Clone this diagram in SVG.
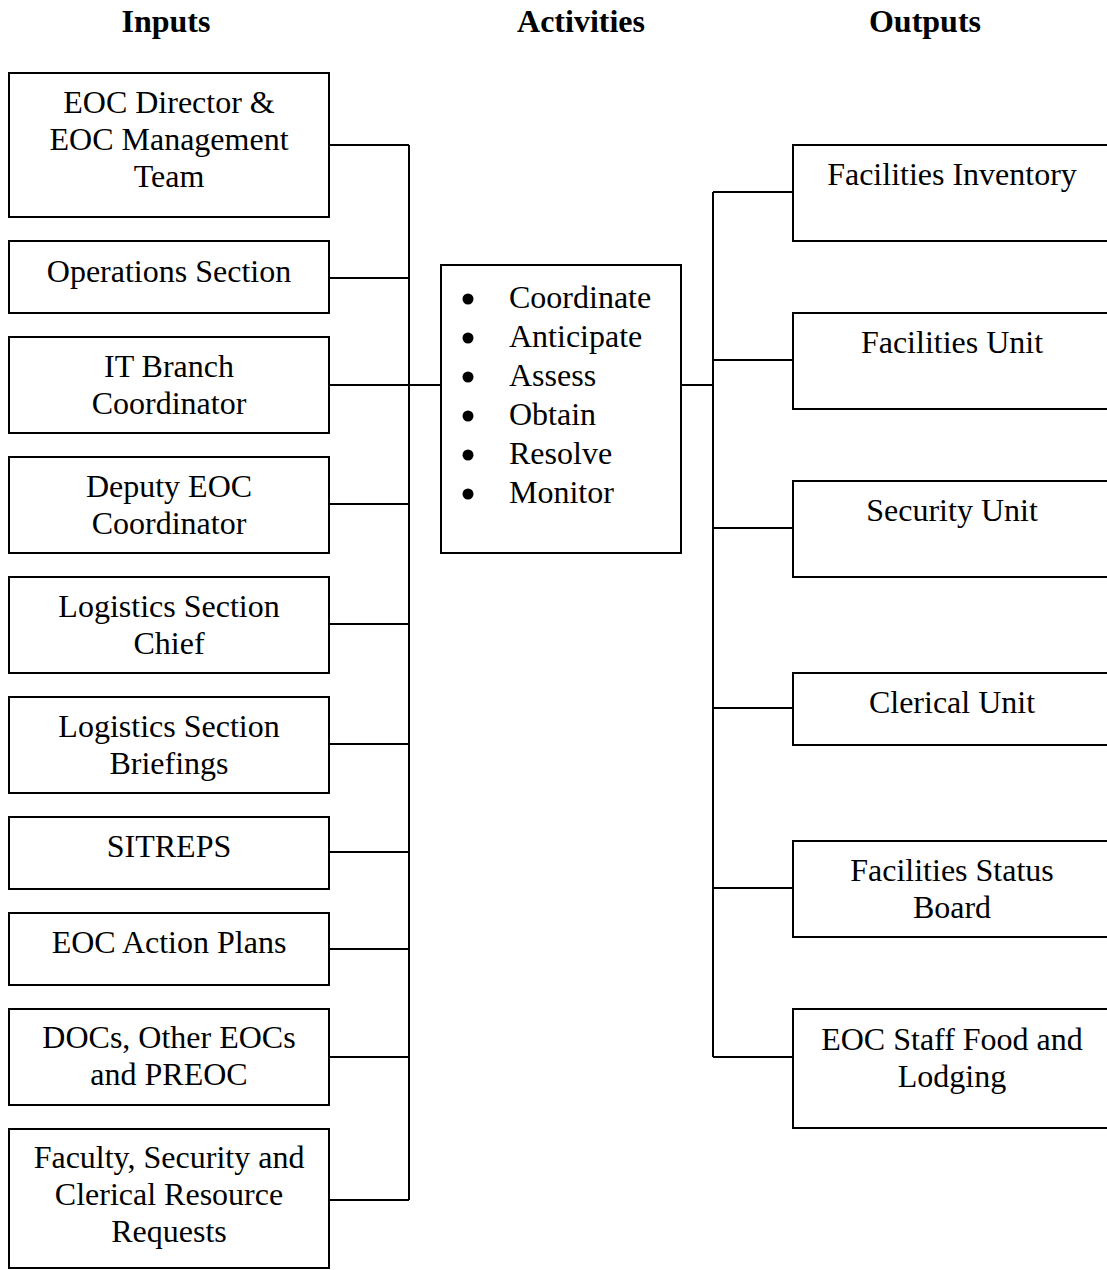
<svg xmlns="http://www.w3.org/2000/svg" width="1107" height="1270" viewBox="0 0 1107 1270">
  <style>
    .box { fill: #ffffff; stroke: #000000; stroke-width: 2; }
    .wire { fill: none; stroke: #000000; stroke-width: 2; }
    .lbl { font-family: "Liberation Serif", "Times New Roman", serif; font-size: 32px; fill: #000000; }
    .mid { text-anchor: middle; }
    .head { font-family: "Liberation Serif", "Times New Roman", serif; font-size: 32px; font-weight: bold; text-anchor: middle; fill: #000000; }
  </style>
  <rect width="1107" height="1270" fill="#ffffff"/>

  <!-- column headings -->
  <g id="headings">
    <text class="head" x="166" y="32">Inputs</text>
    <text class="head" x="581" y="32">Activities</text>
    <text class="head" x="925" y="32">Outputs</text>
  </g>

  <!-- connectors -->
  <g id="connectors">
    <!-- input bus -->
    <path class="wire" d="M409 145 V1200"/>
    <path class="wire" d="M329 145 H409 M329 278 H409 M329 385 H409 M329 504 H409 M329 624 H409 M329 744 H409 M329 852 H409 M329 949 H409 M329 1057 H409 M329 1200 H409"/>
    <path class="wire" d="M409 385 H441"/>
    <!-- output bus -->
    <path class="wire" d="M681 385 H713"/>
    <path class="wire" d="M713 192 V1057"/>
    <path class="wire" d="M713 192 H793 M713 360 H793 M713 528 H793 M713 708 H793 M713 888 H793 M713 1057 H793"/>
  </g>

  <!-- inputs -->
  <g id="in-director">
    <rect class="box" x="9" y="73" width="320" height="144"/>
    <text class="lbl mid" x="169" y="113">EOC Director &amp;</text>
    <text class="lbl mid" x="169" y="150">EOC Management</text>
    <text class="lbl mid" x="169" y="187">Team</text>
  </g>
  <g id="in-operations">
    <rect class="box" x="9" y="241" width="320" height="72"/>
    <text class="lbl mid" x="169" y="282">Operations Section</text>
  </g>
  <g id="in-it-branch">
    <rect class="box" x="9" y="337" width="320" height="96"/>
    <text class="lbl mid" x="169" y="377">IT Branch</text>
    <text class="lbl mid" x="169" y="414">Coordinator</text>
  </g>
  <g id="in-deputy">
    <rect class="box" x="9" y="457" width="320" height="96"/>
    <text class="lbl mid" x="169" y="497">Deputy EOC</text>
    <text class="lbl mid" x="169" y="534">Coordinator</text>
  </g>
  <g id="in-logistics-chief">
    <rect class="box" x="9" y="577" width="320" height="96"/>
    <text class="lbl mid" x="169" y="617">Logistics Section</text>
    <text class="lbl mid" x="169" y="654">Chief</text>
  </g>
  <g id="in-logistics-briefings">
    <rect class="box" x="9" y="697" width="320" height="96"/>
    <text class="lbl mid" x="169" y="737">Logistics Section</text>
    <text class="lbl mid" x="169" y="774">Briefings</text>
  </g>
  <g id="in-sitreps">
    <rect class="box" x="9" y="817" width="320" height="72"/>
    <text class="lbl mid" x="169" y="857">SITREPS</text>
  </g>
  <g id="in-action-plans">
    <rect class="box" x="9" y="913" width="320" height="72"/>
    <text class="lbl mid" x="169" y="953">EOC Action Plans</text>
  </g>
  <g id="in-docs">
    <rect class="box" x="9" y="1009" width="320" height="96"/>
    <text class="lbl mid" x="169" y="1048">DOCs, Other EOCs</text>
    <text class="lbl mid" x="169" y="1085">and PREOC</text>
  </g>
  <g id="in-requests">
    <rect class="box" x="9" y="1129" width="320" height="139"/>
    <text class="lbl mid" x="169" y="1168">Faculty, Security and</text>
    <text class="lbl mid" x="169" y="1205">Clerical Resource</text>
    <text class="lbl mid" x="169" y="1242">Requests</text>
  </g>

  <!-- activities -->
  <g id="activities">
    <rect class="box" x="441" y="265" width="240" height="288"/>
    <g fill="#000000">
      <circle cx="468" cy="299" r="5.5"/>
      <circle cx="468" cy="338" r="5.5"/>
      <circle cx="468" cy="377" r="5.5"/>
      <circle cx="468" cy="416" r="5.5"/>
      <circle cx="468" cy="455" r="5.5"/>
      <circle cx="468" cy="494" r="5.5"/>
    </g>
    <text class="lbl" x="509" y="308">Coordinate</text>
    <text class="lbl" x="509" y="347">Anticipate</text>
    <text class="lbl" x="509" y="386">Assess</text>
    <text class="lbl" x="509" y="425">Obtain</text>
    <text class="lbl" x="509" y="464">Resolve</text>
    <text class="lbl" x="509" y="503">Monitor</text>
  </g>

  <!-- outputs -->
  <g id="out-inventory">
    <rect class="box" x="793" y="145" width="330" height="96"/>
    <text class="lbl mid" x="952" y="185">Facilities Inventory</text>
  </g>
  <g id="out-facilities-unit">
    <rect class="box" x="793" y="313" width="330" height="96"/>
    <text class="lbl mid" x="952" y="353">Facilities Unit</text>
  </g>
  <g id="out-security-unit">
    <rect class="box" x="793" y="481" width="330" height="96"/>
    <text class="lbl mid" x="952" y="521">Security Unit</text>
  </g>
  <g id="out-clerical-unit">
    <rect class="box" x="793" y="673" width="330" height="72"/>
    <text class="lbl mid" x="952" y="713">Clerical Unit</text>
  </g>
  <g id="out-status-board">
    <rect class="box" x="793" y="841" width="330" height="96"/>
    <text class="lbl mid" x="952" y="881">Facilities Status</text>
    <text class="lbl mid" x="952" y="918">Board</text>
  </g>
  <g id="out-food-lodging">
    <rect class="box" x="793" y="1009" width="330" height="119"/>
    <text class="lbl mid" x="952" y="1050">EOC Staff Food and</text>
    <text class="lbl mid" x="952" y="1087">Lodging</text>
  </g>
</svg>
